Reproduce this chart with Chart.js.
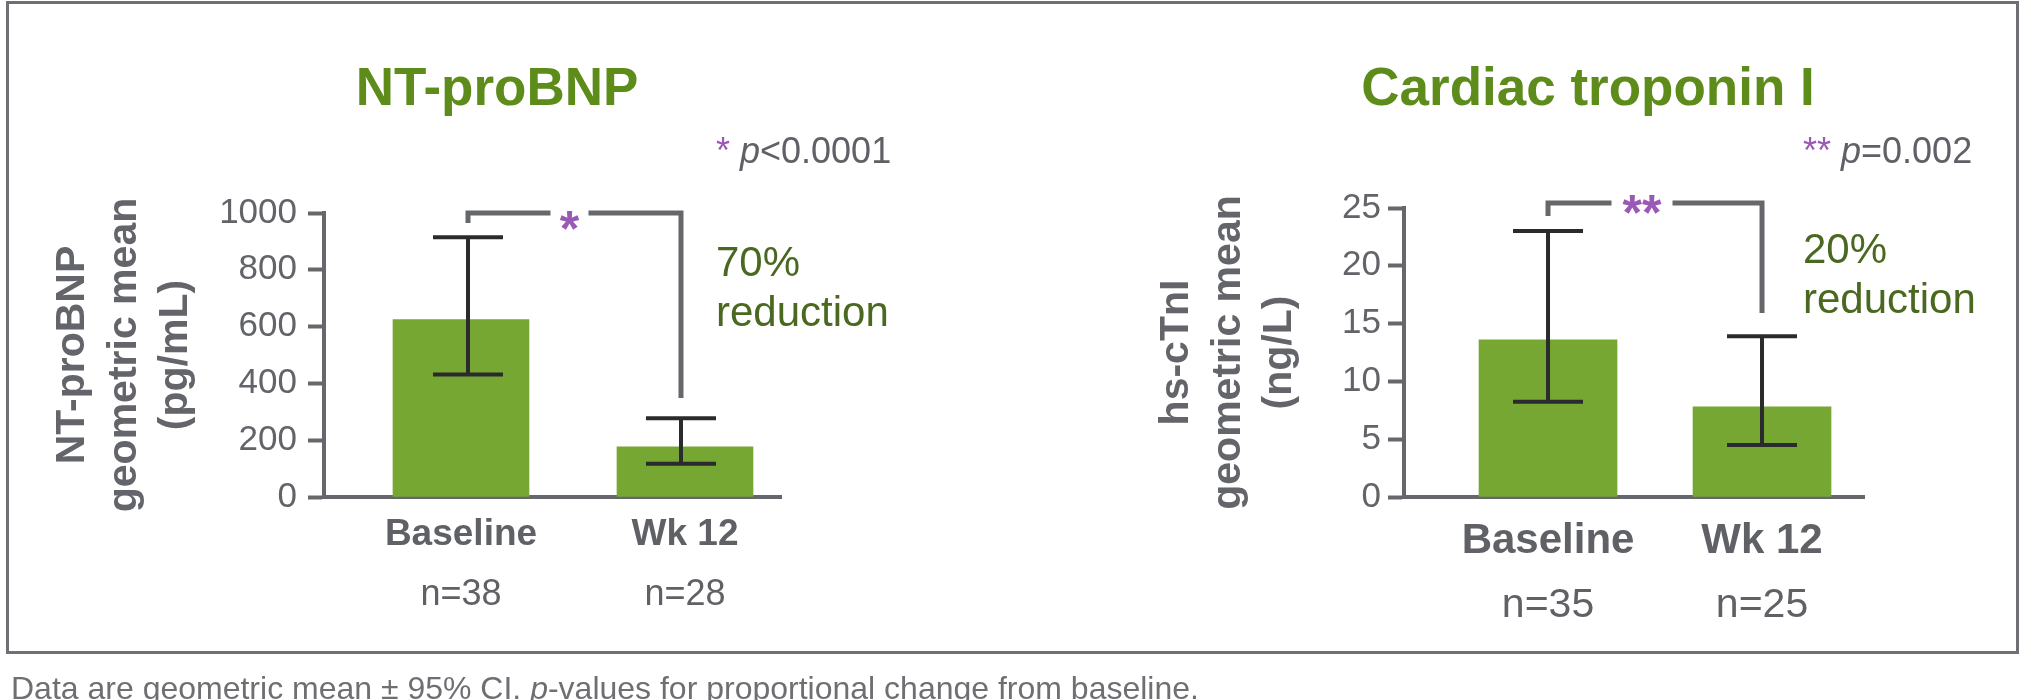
<!DOCTYPE html>
<html>
<head>
<meta charset="utf-8">
<script src="https://cdn.jsdelivr.net/npm/chart.js@4/dist/chart.umd.min.js"></script>
<style>
  html, body { margin: 0; padding: 0; background: #ffffff; }
  body { width: 2031px; height: 700px; position: relative; overflow: hidden;
         font-family: "Liberation Sans", Arial, Helvetica, sans-serif; }
  #frame { position: absolute; left: 6px; top: 1px; width: 2013px; height: 653px;
           border: 3px solid #6e7074; box-sizing: border-box; }
  canvas { position: absolute; top: 0; }
  #cv-left { left: 0; }
  #cv-right { left: 1015px; }
  #note { position: absolute; left: 11px; top: 672px; font-size: 32px; line-height: 32px;
          color: #6d6f73; white-space: nowrap; }
</style>
</head>
<body>
<div id="frame"></div>
<canvas id="cv-left" width="1015" height="700"></canvas>
<canvas id="cv-right" width="1016" height="700"></canvas>
<div id="note">Data are geometric mean ± 95% CI. <i>p</i>-values for proportional change from baseline.</div>
<script>
const categories = ['Baseline', 'Wk 12'];

// NT-proBNP (pg/mL): geometric mean with 95% CI
const bnpMean = [625, 177];
const bnpLow = [431, 117];
const bnpHigh = [915, 277];
const bnpN = [38, 28];
const bnpTicks = [0, 200, 400, 600, 800, 1000];

// hs-cTnI (ng/L): geometric mean with 95% CI
const tniMean = [13.6, 7.8];
const tniLow = [8.25, 4.5];
const tniHigh = [23.0, 13.9];
const tniN = [35, 25];
const tniTicks = [0, 5, 10, 15, 20, 25];

const FONT = '"Liberation Sans", Arial, Helvetica, sans-serif';
const BAR_GREEN = '#76a733';
const TITLE_GREEN = '#5e8c1b';
const NOTE_GREEN = '#4a6820';
const PURPLE = '#9b59b6';
const AXIS_GREY = '#65676b';
const TEXT_GREY = '#5f6166';
const ERR_COLOR = '#2b2b2d';

// Error bars, significance bracket and panel texts
const notesPlugin = {
  id: 'notes',
  afterDatasetsDraw(chart, args, o) {
    const ctx = chart.ctx;
    const ys = chart.scales.y;
    const xs = chart.getDatasetMeta(0).data.map((b, i) => b.x + o.whiskerShift[i]);
    ctx.save();

    // 95% CI whiskers
    ctx.strokeStyle = ERR_COLOR;
    ctx.lineWidth = 4;
    ctx.lineCap = 'butt';
    xs.forEach((x, i) => {
      const yh = ys.getPixelForValue(o.high[i]);
      const yl = ys.getPixelForValue(o.low[i]);
      ctx.beginPath();
      ctx.moveTo(x, yh); ctx.lineTo(x, yl);
      ctx.moveTo(x - o.capHalf, yh); ctx.lineTo(x + o.capHalf, yh);
      ctx.moveTo(x - o.capHalf, yl); ctx.lineTo(x + o.capHalf, yl);
      ctx.stroke();
    });

    // bracket between the two visits
    const b = o.bracket;
    const top = chart.chartArea.top + b.top;
    const mid = (xs[0] + xs[1]) / 2 + b.shift;
    ctx.strokeStyle = AXIS_GREY;
    ctx.lineWidth = 5;
    ctx.lineJoin = 'miter';
    ctx.beginPath();
    ctx.moveTo(xs[0], chart.chartArea.top + b.leftEnd);
    ctx.lineTo(xs[0], top);
    ctx.lineTo(mid - b.gap / 2, top);
    ctx.stroke();
    ctx.beginPath();
    ctx.moveTo(mid + b.gap / 2, top);
    ctx.lineTo(xs[1], top);
    ctx.lineTo(xs[1], chart.chartArea.top + b.rightEnd);
    ctx.stroke();

    ctx.fillStyle = PURPLE;
    ctx.font = 'bold ' + b.starSize + 'px ' + FONT;
    ctx.textAlign = 'center';
    ctx.textBaseline = 'alphabetic';
    ctx.fillText(o.stars, mid, chart.chartArea.top + b.starY);
    ctx.restore();
  },
  afterDraw(chart, args, o) {
    const ctx = chart.ctx;
    const xs = chart.getDatasetMeta(0).data.map(b => b.x);
    ctx.save();
    ctx.textBaseline = 'alphabetic';

    // panel title
    ctx.fillStyle = TITLE_GREEN;
    ctx.font = 'bold 53px ' + FONT;
    ctx.textAlign = 'center';
    ctx.fillText(o.title, o.titleX, 105);

    // p-value key
    ctx.textAlign = 'left';
    let x = o.keyX;
    const parts = [
      { t: o.stars + ' ', f: '36px ' + FONT, c: PURPLE },
      { t: 'p', f: 'italic 36px ' + FONT, c: TEXT_GREY },
      { t: o.pText, f: '36px ' + FONT, c: TEXT_GREY }
    ];
    parts.forEach(p => {
      ctx.font = p.f; ctx.fillStyle = p.c;
      ctx.fillText(p.t, x, 163);
      x += ctx.measureText(p.t).width;
    });

    // relative change
    ctx.font = '42px ' + FONT;
    ctx.fillStyle = NOTE_GREEN;
    o.change.forEach((line, i) => ctx.fillText(line, o.keyX, o.changeY + i * 50));

    // group sizes under the category labels
    ctx.font = o.nSize + 'px ' + FONT;
    ctx.fillStyle = TEXT_GREY;
    ctx.textAlign = 'center';
    xs.forEach((bx, i) => ctx.fillText('n=' + o.n[i], bx, o.nY));
    ctx.restore();
  }
};

function makePanel(canvasId, cfg) {
  return new Chart(document.getElementById(canvasId), {
    type: 'bar',
    data: {
      datasets: [{
        data: cfg.mean.map((v, i) => ({ x: i, y: v })),
        backgroundColor: BAR_GREEN,
        borderWidth: 0,
        barThickness: cfg.barWidth
      }]
    },
    options: {
      responsive: false,
      animation: false,
      devicePixelRatio: 1,
      layout: { padding: cfg.padding },
      plugins: {
        legend: { display: false },
        tooltip: { enabled: false },
        notes: cfg.notes
      },
      scales: {
        x: {
          type: 'linear',
          offset: false,
          min: cfg.xMin,
          max: cfg.xMax,
          z: 1,
          afterBuildTicks: s => { s.ticks = categories.map((c, i) => ({ value: i })); },
          grid: { display: false, drawTicks: false, offset: false },
          border: { display: true, color: AXIS_GREY, width: 4 },
          ticks: {
            callback: v => categories[v],
            font: { family: FONT, size: cfg.catSize, weight: 'bold' },
            color: TEXT_GREY,
            padding: cfg.catPad,
            maxRotation: 0,
            autoSkip: false
          },
          afterFit: s => { s.height = 100; }
        },
        y: {
          min: cfg.ticks[0],
          max: cfg.ticks[cfg.ticks.length - 1],
          z: 1,
          afterBuildTicks: s => { s.ticks = cfg.ticks.map(v => ({ value: v })); },
          grid: { display: true, drawOnChartArea: false, drawTicks: true, tickLength: 16, tickWidth: 4, tickColor: AXIS_GREY },
          border: { display: true, color: AXIS_GREY, width: 4 },
          ticks: {
            callback: v => String(v),
            font: { family: FONT, size: 35 },
            color: '#626469',
            padding: cfg.tickPad
          },
          title: {
            display: true,
            text: cfg.yTitle,
            font: { family: FONT, size: 41, weight: 'bold', lineHeight: 1.26 },
            color: '#63656a',
            padding: { top: cfg.yTitlePad, bottom: 0 }
          },
          afterFit: s => { s.width = cfg.yWidth; }
        }
      }
    },
    plugins: [notesPlugin]
  });
}

makePanel('cv-left', {
  mean: bnpMean, ticks: bnpTicks,
  barWidth: 136, xMin: -0.6116, xMax: 1.4286,
  padding: { left: 20, top: 213, right: 234, bottom: 103 },
  yWidth: 304, yTitlePad: 27, tickPad: 11, catSize: 37, catPad: 16,
  yTitle: ['NT-proBNP', 'geometric mean', '(pg/mL)'],
  notes: {
    high: bnpHigh, low: bnpLow, n: bnpN, capHalf: 35, whiskerShift: [7, -4],
    title: 'NT-proBNP', titleX: 497,
    stars: '*', pText: '<0.0001', keyX: 716,
    change: ['70%', 'reduction'], changeY: 276,
    nSize: 36, nY: 605,
    bracket: { top: 0, leftEnd: 10, rightEnd: 185, gap: 38, shift: -5, starSize: 50, starY: 33 }
  }
});

makePanel('cv-right', {
  mean: tniMean, ticks: tniTicks,
  barWidth: 138, xMin: -0.673, xMax: 1.4766,
  padding: { left: 20, top: 208, right: 167, bottom: 103 },
  yWidth: 369, yTitlePad: 116, tickPad: 7, catSize: 42, catPad: 19,
  yTitle: ['hs-cTnI', 'geometric mean', '(ng/L)'],
  notes: {
    high: tniHigh, low: tniLow, n: tniN, capHalf: 35, whiskerShift: [0, 0],
    title: 'Cardiac troponin I', titleX: 573,
    stars: '**', pText: '=0.002', keyX: 788,
    change: ['20%', 'reduction'], changeY: 263,
    nSize: 41, nY: 617,
    bracket: { top: -5, leftEnd: 8, rightEnd: 105, gap: 61, shift: -13, starSize: 50, starY: 22 }
  }
});
</script>
</body>
</html>
